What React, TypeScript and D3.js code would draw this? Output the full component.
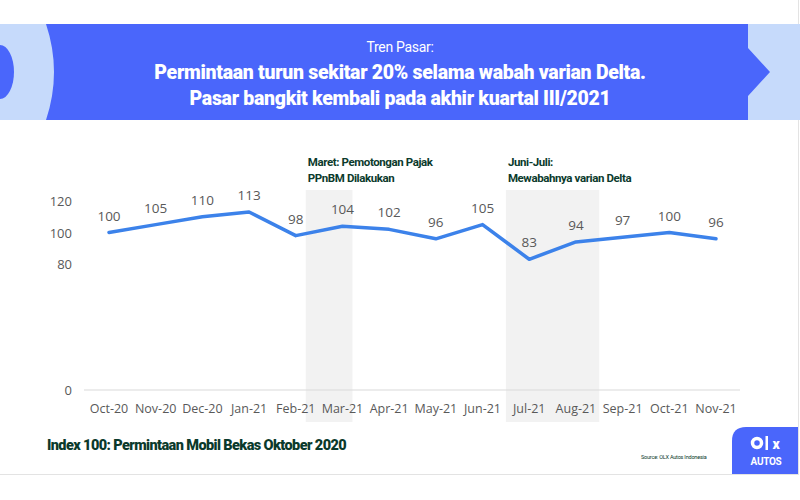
import React from "react";
import * as d3 from "d3";

const months = ["Oct-20","Nov-20","Dec-20","Jan-21","Feb-21","Mar-21","Apr-21","May-21","Jun-21","Jul-21","Aug-21","Sep-21","Oct-21","Nov-21"];
const demandIndex = [100,105,110,113,98,104,102,96,105,83,94,97,100,96];
const yTicks = [0,20,40,60,80,100,120];
const shownYTicks = [0,80,100,120];
const shadeRanges = [
  { from: "Feb-21", to: "Mar-21", lines: ["Maret: Pemotongan Pajak", "PPnBM Dilakukan"] },
  { from: "Jun-21", to: "Aug-21", lines: ["Juni-Juli:", "Mewabahnya varian Delta"] },
];
const headerSub = "Tren Pasar:";
const headerLines = ["Permintaan turun sekitar 20% selama wabah varian Delta.", "Pasar bangkit kembali pada akhir kuartal III/2021"];
const footnote = "Index 100: Permintaan Mobil Bekas Oktober 2020";
const source = "Source: OLX Autos Indonesia";

export default function App() {
  const W = 800, H = 500;
  const x = d3.scalePoint<string>().domain(months).range([109, 716]);
  const step = x.step();
  const y = d3.scaleLinear().domain([0, 120]).range([390, 201]);
  const line = d3.line<number>().x((_, i) => x(months[i])!).y(d => y(d));
  const blue = "#4a66fb";
  const light = "#c6dafb";
  const dark = "#0b3a2c";
  const gray = "#595959";
  const bandStart = (m: string, shift: number) => x(m)! + shift;
  return (
    <svg width={W} height={H} style={{ position: "absolute", left: 0, top: 0, background: "#fff" }}>
      {/* frame */}
      <line x1={0} y1={474.5} x2={798} y2={474.5} stroke="#e3e3e3" />
      <line x1={798.5} y1={0} x2={798.5} y2={475} stroke="#e3e3e3" />
      {/* banner */}
      <rect x={0} y={24} width={800} height={96} fill={light} />
      <path d="M46,24 Q62,72 46,120 L748,120 L748,96 L770,72 L748,48 L748,24 Z" fill={blue} />
      <ellipse cx={0} cy={72} rx={14} ry={27} fill={blue} />
      <text x={400} y={52} textAnchor="middle" fill="#fff" fontFamily="Roboto, sans-serif" fontSize={14} letterSpacing={-0.3}>{headerSub}</text>
      {headerLines.map((t, i) => (
        <text key={i} x={400} y={79 + i * 26} textAnchor="middle" fill="#fff" fontFamily="Roboto, sans-serif" fontWeight={900} fontSize={19.5} letterSpacing={-0.3}>{t}</text>
      ))}
      {/* shaded bands */}
      {shadeRanges.map((r, i) => {
        const x0 = i === 0 ? bandStart(r.from, 10) : bandStart(r.from, step / 2);
        const x1 = i === 0 ? bandStart(r.to, 10) : bandStart(r.to, step / 2);
        return (
          <g key={i}>
            <rect x={x0} y={190} width={x1 - x0} height={232} fill="#f2f2f2" />
            {r.lines.map((t, j) => (
              <text key={j} x={x0 + 2} y={166 + j * 16} fill={dark} fontFamily="Roboto, sans-serif" fontWeight={700} fontSize={11.5} letterSpacing={-0.4}>{t}</text>
            ))}
          </g>
        );
      })}
      {/* axis */}
      <line x1={84} x2={740} y1={y(0)} y2={y(0)} stroke="#d9d9d9" strokeWidth={1.2} />
      {yTicks.filter(t => shownYTicks.includes(t)).map(t => (
        <text key={t} x={72} y={y(t) + 5} textAnchor="end" fill={gray} fontFamily="'Open Sans', sans-serif" fontSize={13}>{t}</text>
      ))}
      {months.map(m => (
        <text key={m} x={x(m)} y={413} textAnchor="middle" fill={gray} fontFamily="'Open Sans', sans-serif" fontSize={12.5}>{m}</text>
      ))}
      {/* line */}
      <path d={line(demandIndex)!} fill="none" stroke="#3c82ea" strokeWidth={3.5} strokeLinejoin="round" strokeLinecap="round" />
      {demandIndex.map((v, i) => (
        <text key={i} x={x(months[i])} y={y(v) - 12} textAnchor="middle" fill={gray} fontFamily="'Open Sans', sans-serif" fontSize={13.5}>{v}</text>
      ))}
      {/* footer */}
      <text x={47} y={450} fill={dark} fontFamily="Roboto, sans-serif" fontWeight={900} fontSize={14.5} letterSpacing={-0.6}>{footnote}</text>
      <text x={641} y={459} fill={dark} fontFamily="Roboto, sans-serif" fontSize={5.5} letterSpacing={-0.2}>{source}</text>
      <path d="M732,474 L732,441 Q732,427 746,427 L798,427 L798,474 Z" fill={blue} />
      <circle cx={757} cy={443} r={4.5} fill="none" stroke="#fff" strokeWidth={3.5} />
      <rect x={765.5} y={436} width={2.5} height={14} fill="#fff" />
      <text x={776} y={449} textAnchor="middle" fill="#fff" fontFamily="Roboto, sans-serif" fontWeight={900} fontSize={14}>x</text>
      <text x={766} y={465} textAnchor="middle" fill="#fff" fontFamily="Roboto, sans-serif" fontWeight={700} fontSize={10} letterSpacing={-0.3}>AUTOS</text>
    </svg>
  );
}
